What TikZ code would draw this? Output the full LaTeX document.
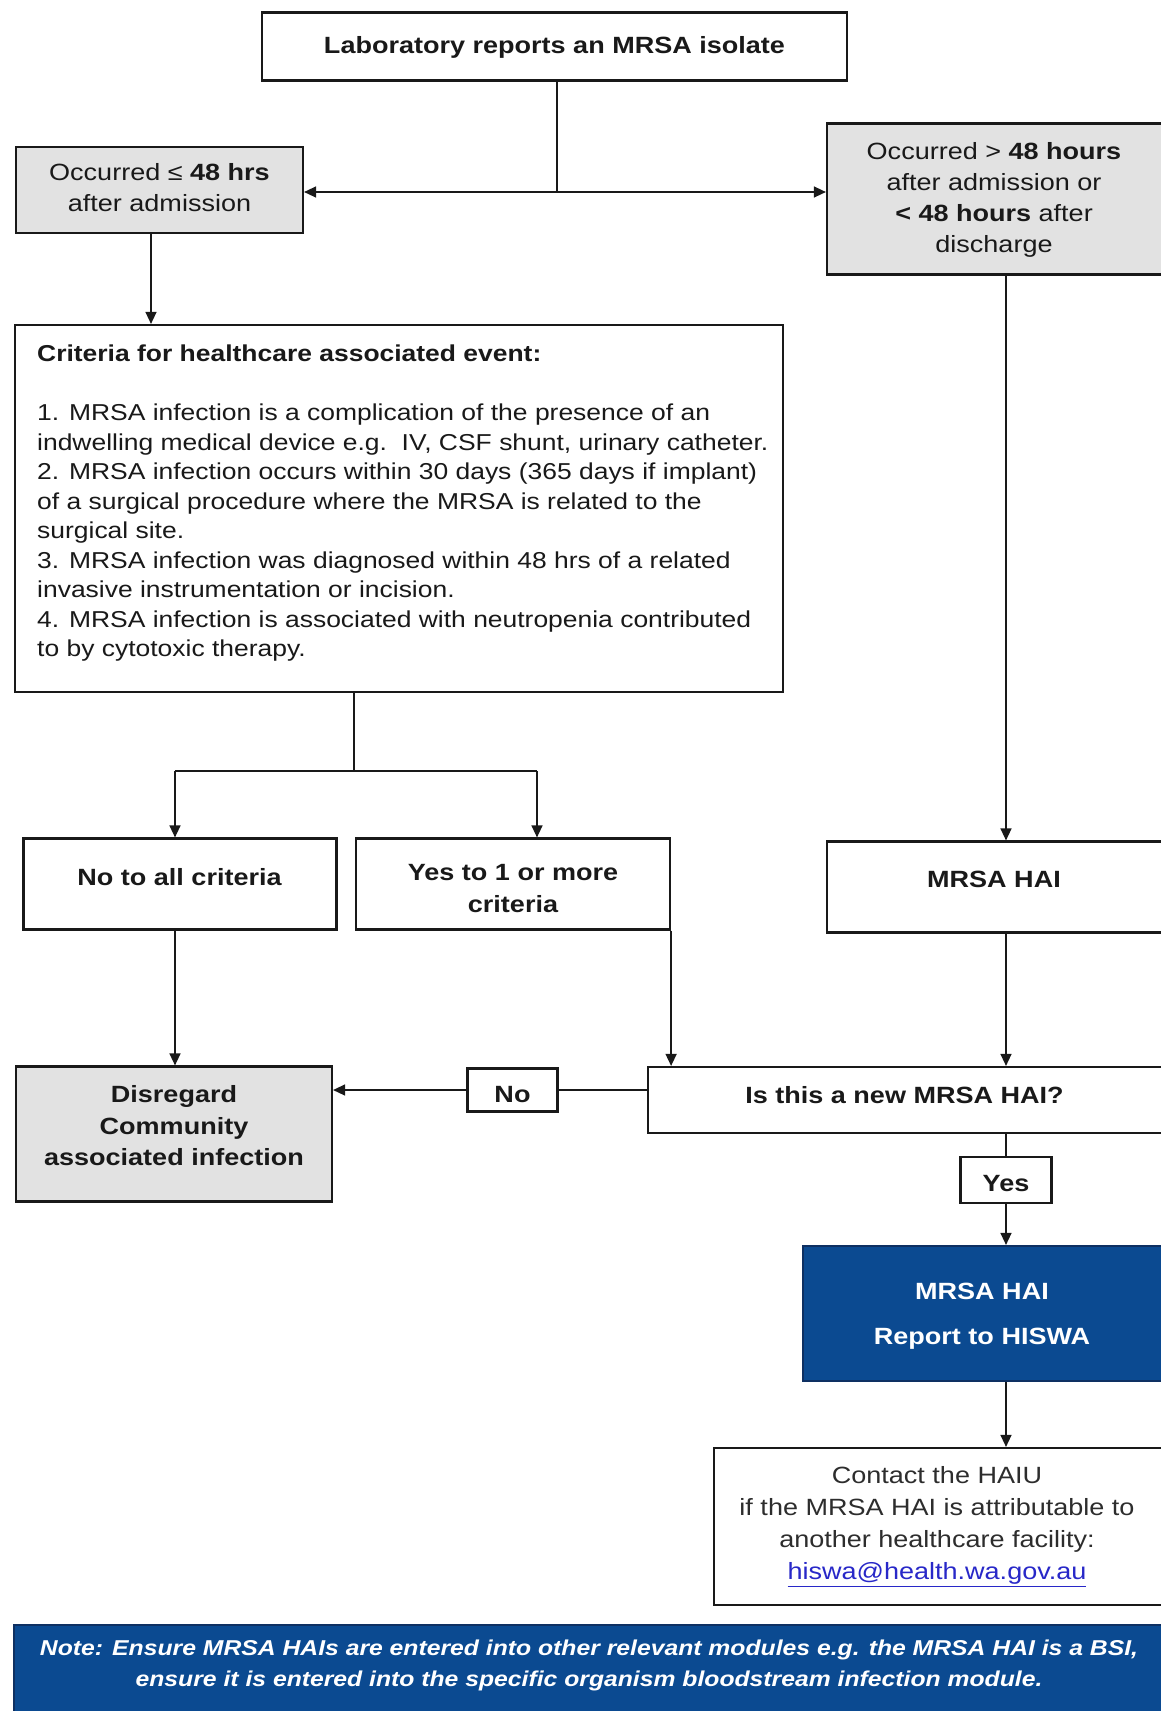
\documentclass[tikz,border=0pt]{standalone}
\usepackage{fontspec}
\setmainfont{Liberation Sans}[FakeStretch=1.15]
\usetikzlibrary{arrows.meta}
\definecolor{navy}{RGB}{11,74,145}
\definecolor{navyedge}{RGB}{14,48,98}
\definecolor{boxgray}{RGB}{226,226,226}
\definecolor{ink}{RGB}{25,25,25}
\definecolor{softink}{RGB}{45,45,45}
\definecolor{linkblue}{RGB}{40,40,200}
\begin{document}
\begin{tikzpicture}[x=1pt,y=-1pt,
  box/.style={draw=ink,line width=2.2pt,inner sep=0pt,fill=white},
  gbox/.style={box,fill=boxgray},
  bluebox/.style={draw=navyedge,line width=2.2pt,inner sep=0pt,fill=navy},
  txt/.style={inner sep=0pt,text=ink,align=center,font=\fontsize{23.5}{#1}\selectfont},
  txt/.default=31,
  conn/.style={draw=ink,line width=1.4pt},
  arr/.style={conn,-{Triangle[length=12pt,width=11pt]}}]
\fill[white] (0,0) rectangle (1161,1711);
\useasboundingbox (0,0) rectangle (1161,1711);
\clip (0,0) rectangle (1161,1711);

% boxes
\node[box,minimum width=585pt,minimum height=68pt] (lab) at (554.5,46.5) {};
\node[gbox,minimum width=287pt,minimum height=86pt] (occL) at (159.5,190) {};
\node[gbox,minimum width=336pt,minimum height=151pt] (occR) at (995,199) {};
\node[box,minimum width=768pt,minimum height=367pt] (crit) at (399,508.5) {};
\node[box,minimum width=313pt,minimum height=91pt] (noall) at (180,884) {};
\node[box,minimum width=314pt,minimum height=91pt] (yes1) at (513,884) {};
\node[box,minimum width=336pt,minimum height=91pt] (hai) at (995,887) {};
\node[gbox,minimum width=316pt,minimum height=135pt] (disr) at (174,1134) {};
\node[box,minimum width=515pt,minimum height=66pt] (isnew) at (905.5,1100) {};
\node[box,minimum width=90pt,minimum height=43pt] (nobox) at (512.5,1090) {};
\node[box,minimum width=91pt,minimum height=46pt] (yesbox) at (1006,1180) {};
\node[bluebox,minimum width=360pt,minimum height=135pt] (dark) at (983,1313.5) {};
\node[box,minimum width=449pt,minimum height=157pt] (contact) at (938.5,1526.5) {};
\node[bluebox,minimum width=1151pt,minimum height=92pt] (note) at (589.5,1671) {};

% texts
\node[txt] (lab-t) at (554.5,47) {\strut\bfseries Laboratory reports an MRSA isolate\strut};
\node[txt=30.5] (occL-t) at (159.5,190) {\strut Occurred ≤ \textbf{48 hrs}\\after admission\strut};
\node[txt=31] (occR-t) at (994,200) {\strut Occurred > \textbf{48 hours}\\after admission or\\\textbf{< 48 hours} after\\discharge\strut};
\node[txt=29.5,align=left,anchor=north west,font=\fontsize{23}{29.5}\selectfont] (crit-t) at (37,341)
  {\strut\textbf{Criteria for healthcare associated event:}\\[29.5pt]
   1. MRSA infection is a complication of the presence of an\\
   indwelling medical device e.g.\ \ IV, CSF shunt, urinary catheter.\\
   2. MRSA infection occurs within 30 days (365 days if implant)\\
   of a surgical procedure where the MRSA is related to the\\
   surgical site.\\
   3. MRSA infection was diagnosed within 48 hrs of a related\\
   invasive instrumentation or incision.\\
   4. MRSA infection is associated with neutropenia contributed\\
   to by cytotoxic therapy.\strut};
\node[txt] (noall-t) at (179.5,879) {\strut\bfseries No to all criteria\strut};
\node[txt=32.5] (yes1-t) at (513,890) {\strut\bfseries Yes to 1 or more\\\bfseries criteria\strut};
\node[txt] (hai-t) at (994,881) {\strut\bfseries MRSA HAI\strut};
\node[txt=31.5] (disr-t) at (174,1128) {\strut\bfseries Disregard\\\bfseries Community\\\bfseries associated infection\strut};
\node[txt] (isnew-t) at (904.5,1097) {\strut\bfseries Is this a new MRSA HAI?\strut};
\node[txt] (nobox-t) at (512.5,1096) {\strut\bfseries No\strut};
\node[txt] (yesbox-t) at (1006,1185) {\strut\bfseries Yes\strut};
\node[txt=45,text=white] (dark-t) at (982,1313) {\strut\bfseries MRSA HAI\\\bfseries Report to HISWA\strut};
\node[txt=32.3,text=softink] (contact-t) at (937,1525) {\strut Contact the HAIU\\if the MRSA HAI is attributable to\\another healthcare facility:\\\textcolor{linkblue}{\underline{hiswa@health.wa.gov.au}}\strut};
\node[txt=30.5,text=white,font=\fontsize{21.5}{30.5}\selectfont\bfseries\itshape] (note-t) at (589,1665)
  {\strut Note: Ensure MRSA HAIs are entered into other relevant modules e.g. the MRSA HAI is a BSI,\\ensure it is entered into the specific organism bloodstream infection module.\strut};

% connector coordinates
\coordinate (j1) at (557,192);
\coordinate (cL) at (151,0);
\coordinate (split) at (354,771);
\coordinate (sL) at (175,771);
\coordinate (sR) at (537,771);
\coordinate (cR) at (1006,0);

% connectors
\draw[conn] (j1 |- lab.south) -- (j1);
\draw[arr] (j1) -- (j1 -| occL.east);
\draw[arr] (j1) -- (j1 -| occR.west);
\draw[arr] (cL |- occL.south) -- (cL |- crit.north);
\draw[conn] (split |- crit.south) -- (split);
\draw[conn] (sL) -- (sR);
\draw[arr] (sL) -- (sL |- noall.north);
\draw[arr] (sR) -- (sR |- yes1.north);
\draw[arr] (cR |- occR.south) -- (cR |- hai.north);
\draw[arr] (sL |- noall.south) -- (sL |- disr.north);
\draw[arr] (yes1.south east) -- (yes1.south east |- isnew.north);
\draw[arr] (cR |- hai.south) -- (cR |- isnew.north);
\draw[conn] (nobox.east) -- (nobox.east -| isnew.west);
\draw[arr] (nobox.west) -- (nobox.west -| disr.east);
\draw[conn] (cR |- isnew.south) -- (yesbox.north);
\draw[arr] (yesbox.south) -- (yesbox.south |- dark.north);
\draw[arr] (cR |- dark.south) -- (cR |- contact.north);
\end{tikzpicture}
\end{document}
